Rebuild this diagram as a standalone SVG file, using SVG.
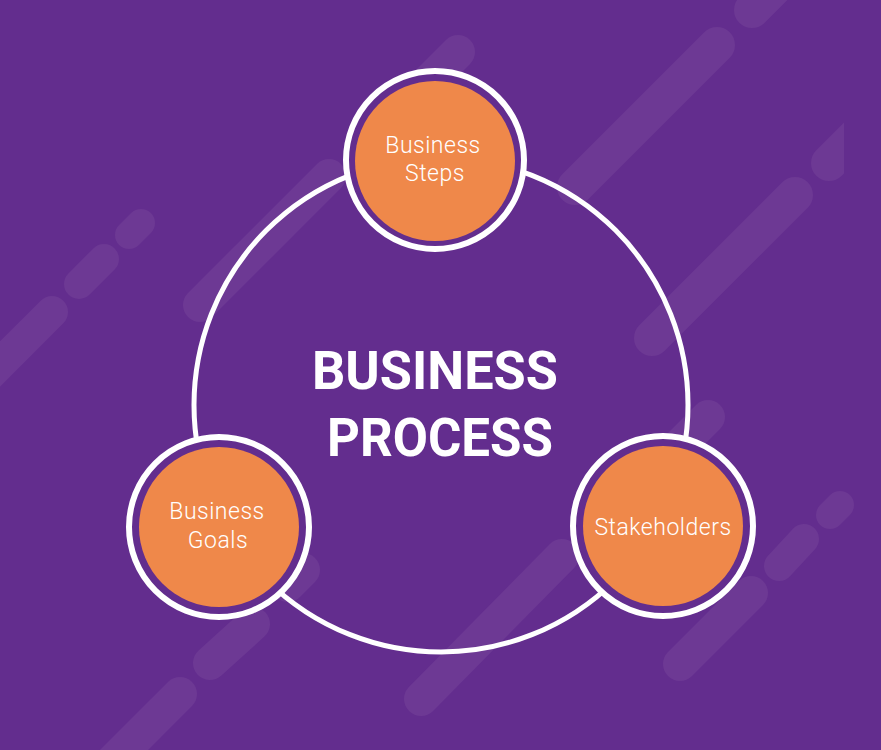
<svg xmlns="http://www.w3.org/2000/svg" width="881" height="750" viewBox="0 0 881 750">
  <defs>
    <style>
      .stripe{stroke:#6D3994;stroke-linecap:round;fill:none}
      .ring{fill:#632D8E;stroke:#FFFFFF;stroke-width:6}
      .disc{fill:#EF884A}
      .lbl{font-family:Roboto,"Liberation Sans",sans-serif;font-weight:300;font-size:23px;letter-spacing:0.5px;fill:#FFFFFF;text-anchor:middle}
      .title{font-family:Roboto,"Liberation Sans",sans-serif;font-weight:700;font-size:53px;fill:#FFFFFF;text-anchor:middle}
      .conn{fill:none;stroke:#FFFFFF;stroke-width:5}
    </style>
    <clipPath id="clipD"><rect x="0" y="0" width="844" height="750"/></clipPath>
    <clipPath id="clipE"><rect x="663" y="0" width="218" height="750"/></clipPath>
  </defs>
  <rect x="0" y="0" width="881" height="750" fill="#632D8E"/>
  <g id="background-stripes">
    <line class="stripe" stroke-width="36" x1="752" y1="10" x2="800" y2="-38"/>
    <line class="stripe" stroke-width="36" x1="717" y1="45" x2="575" y2="187"/>
    <line class="stripe" stroke-width="36" x1="795" y1="195" x2="652" y2="338"/>
    <line class="stripe" stroke-width="36" x1="829" y1="163" x2="880" y2="112" clip-path="url(#clipD)"/>
    <line class="stripe" stroke-width="34" x1="458" y1="52" x2="390" y2="120"/>
    <line class="stripe" stroke-width="34" x1="329" y1="176" x2="200" y2="305"/>
    <line class="stripe" stroke-width="28" x1="141" y1="223" x2="129" y2="235"/>
    <line class="stripe" stroke-width="30" x1="104" y1="259" x2="79" y2="284"/>
    <line class="stripe" stroke-width="32" x1="52" y1="312" x2="-20" y2="384"/>
    <line class="stripe" stroke-width="34" x1="708" y1="417" x2="640" y2="485"/>
    <line class="stripe" stroke-width="28" x1="840" y1="505" x2="830" y2="515"/>
    <line class="stripe" stroke-width="30" x1="804" y1="539" x2="779" y2="566"/>
    <line class="stripe" stroke-width="34" x1="751" y1="593" x2="680" y2="664" clip-path="url(#clipE)"/>
    <line class="stripe" stroke-width="34" x1="562" y1="556" x2="421" y2="699"/>
    <line class="stripe" stroke-width="34" x1="303" y1="570" x2="288" y2="585"/>
    <line class="stripe" stroke-width="34" x1="253" y1="624" x2="210" y2="663"/>
    <line class="stripe" stroke-width="34" x1="180" y1="694" x2="100" y2="774"/>
  </g>
  <g id="connectors">
    <circle class="conn" cx="441" cy="405" r="247"/>
  </g>
  <g id="center-title">
    <text class="title" x="435" y="389" textLength="246" lengthAdjust="spacingAndGlyphs">BUSINESS</text>
    <text class="title" x="440" y="456" textLength="226" lengthAdjust="spacingAndGlyphs">PROCESS</text>
  </g>
  <g id="node-business-steps">
    <circle class="ring" cx="435" cy="160" r="89"/>
    <circle class="disc" cx="435" cy="161" r="80"/>
    <text class="lbl" x="433" y="153">Business</text>
    <text class="lbl" x="435" y="181">Steps</text>
  </g>
  <g id="node-business-goals">
    <circle class="ring" cx="219" cy="527" r="90"/>
    <circle class="disc" cx="219" cy="527" r="80"/>
    <text class="lbl" x="217" y="519">Business</text>
    <text class="lbl" x="218" y="548">Goals</text>
  </g>
  <g id="node-stakeholders">
    <circle class="ring" cx="663" cy="526" r="90"/>
    <circle class="disc" cx="663" cy="526" r="80"/>
    <text class="lbl" x="663" y="535">Stakeholders</text>
  </g>
</svg>
